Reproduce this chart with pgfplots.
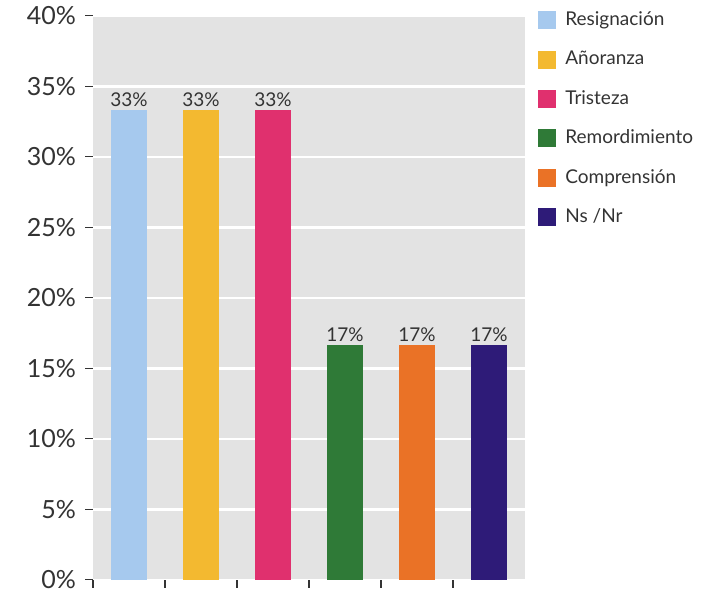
\documentclass[border=0pt]{standalone}
\usepackage{pgfplots}
\pgfplotsset{compat=1.18}
\usepackage{fontspec}
\setmainfont{Lato}
\definecolor{c1}{HTML}{A6C9EE}
\definecolor{c2}{HTML}{F3B930}
\definecolor{c3}{HTML}{E0306E}
\definecolor{c4}{HTML}{2F7A37}
\definecolor{c5}{HTML}{EA7226}
\definecolor{c6}{HTML}{2E1B78}
\definecolor{bg}{HTML}{E3E3E3}
\definecolor{txt}{HTML}{333333}
\begin{document}
\begin{tikzpicture}
\begin{axis}[
  at={(46.5pt,7pt)}, anchor=south west,
  width=216pt, height=282pt, scale only axis,
  xmin=0, xmax=6, ymin=0, ymax=40,
  ybar, bar width=0.5, bar shift=0pt,
  axis line style={draw=none},
  axis background/.style={fill=bg},
  ymajorgrids, grid style={white, line width=1.2pt},
  ytick={0,5,...,40},
  xtick={0,1,2,3,4,5}, xticklabels={},
  xtick pos=bottom, ytick pos=left,
  tick align=outside, major tick length=4pt,
  tick style={draw=txt, line width=0.6pt},
  /pgf/number format/assume math mode=true,
  yticklabel={\pgfmathprintnumber{\tick}\%},
  yticklabel style={font=\fontsize{12.5}{14}\selectfont, text=txt, xshift=-1pt},
  nodes near coords={\pgfmathprintnumber[fixed,precision=0]{\pgfplotspointmeta}\%},
  nodes near coords style={font=\fontsize{9.5}{11}\selectfont, text=txt, inner sep=1.5pt},
  legend style={draw=none, fill=none, at={(1.03,1.015)}, anchor=north west,
    font=\fontsize{9.5}{11}\selectfont, text=txt, row sep=7.3pt, inner sep=0pt,
    nodes={inner xsep=4.5pt}},
  legend cell align=left,
  legend image code/.code={\fill[#1] (0pt,-4.5pt) rectangle (9pt,4.5pt);},
  clip=false,
]
\addplot[fill=c1, draw=none] coordinates {(0.5,33.33)};
\addlegendentry{Resignación}
\addplot[fill=c2, draw=none] coordinates {(1.5,33.33)};
\addlegendentry{Añoranza}
\addplot[fill=c3, draw=none] coordinates {(2.5,33.33)};
\addlegendentry{Tristeza}
\addplot[fill=c4, draw=none] coordinates {(3.5,16.67)};
\addlegendentry{Remordimiento}
\addplot[fill=c5, draw=none] coordinates {(4.5,16.67)};
\addlegendentry{Comprensión}
\addplot[fill=c6, draw=none] coordinates {(5.5,16.67)};
\addlegendentry{Ns /Nr}
\end{axis}
\path (0,0) rectangle (359pt,296pt);
\end{tikzpicture}
\end{document}
